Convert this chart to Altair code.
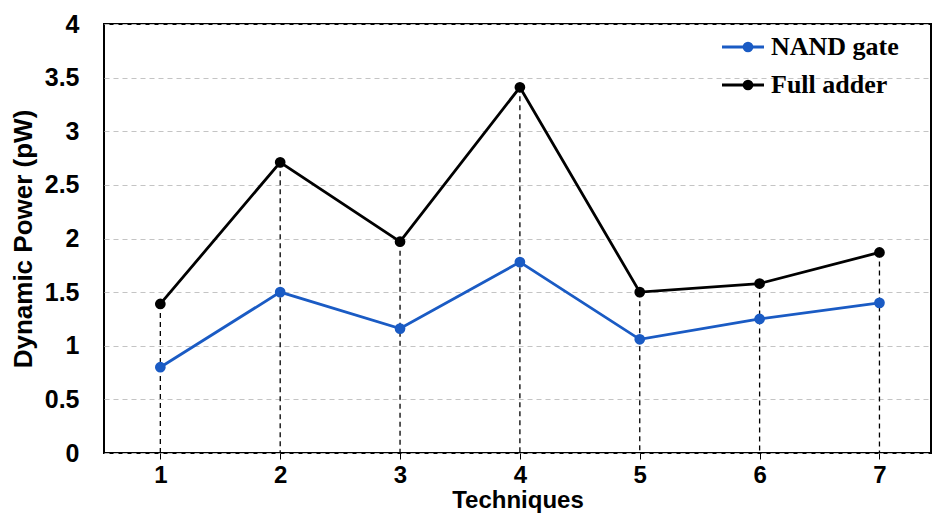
import altair as alt
import pandas as pd

techniques = [1, 2, 3, 4, 5, 6, 7]
nand_gate = [0.80, 1.50, 1.16, 1.78, 1.06, 1.25, 1.40]
full_adder = [1.39, 2.71, 1.97, 3.41, 1.50, 1.58, 1.87]
series_names = ["NAND gate", "Full adder"]
series_colors = ["#1a5bc4", "#000000"]
y_ticks = [0, 0.5, 1, 1.5, 2, 2.5, 3, 3.5, 4]

rows = []
for t, v in zip(techniques, nand_gate):
    rows.append({"Techniques": t, "value": v, "series": "NAND gate"})
for t, v in zip(techniques, full_adder):
    rows.append({"Techniques": t, "value": v, "series": "Full adder"})
df = pd.DataFrame(rows)
df_fa = pd.DataFrame({"Techniques": techniques, "value": full_adder})

x_enc = alt.X("Techniques:Q",
              scale=alt.Scale(domain=[0.53, 7.43], nice=False, zero=False),
              axis=alt.Axis(values=techniques, format="d", grid=False, domain=False,
                            ticks=True, tickSize=6, tickColor="black", tickWidth=1,
                            labelFont="Liberation Sans", labelFontWeight="bold",
                            labelFontSize=24, labelColor="black", labelPadding=4,
                            title="Techniques", titleFont="Liberation Sans",
                            titleFontWeight="bold", titleFontSize=24, titleColor="black",
                            titlePadding=1))
y_enc = alt.Y("value:Q",
              scale=alt.Scale(domain=[0, 4], nice=False),
              axis=alt.Axis(values=y_ticks, format="~g", grid=True, gridColor="#c4c4c4",
                            gridDash=[5, 4], gridWidth=1.2, domain=False, ticks=False,
                            labelFont="Liberation Sans", labelFontWeight="bold",
                            labelFontSize=25, labelColor="black", labelPadding=25,
                            title="Dynamic Power (pW)", titleFont="Liberation Sans",
                            titleFontWeight="bold", titleFontSize=26, titleColor="black",
                            titlePadding=8))

drops = alt.Chart(df_fa).mark_rule(color="black", strokeDash=[5, 4], strokeWidth=1.3).encode(
    x=x_enc, y=y_enc, y2=alt.datum(0))

lines = alt.Chart(df).mark_line(strokeWidth=2.8).encode(
    x=x_enc, y=y_enc,
    color=alt.Color("series:N", scale=alt.Scale(domain=series_names, range=series_colors),
                    sort=series_names,
                    legend=alt.Legend(
                        title=None, orient="none", legendX=626, legendY=10,
                        symbolType="M-2,0L2,0", symbolSize=441, symbolStrokeWidth=2.8,
                        labelFont="Liberation Serif", labelFontWeight="bold",
                        labelFontSize=26, labelColor="black", labelOffset=15,
                        rowPadding=12, padding=0)),
    detail="series:N")

points = alt.Chart(df).mark_point(filled=True, size=115, opacity=1).encode(
    x=x_enc, y=y_enc,
    fill=alt.Fill("series:N", scale=alt.Scale(domain=series_names, range=series_colors),
                  sort=series_names,
                  legend=alt.Legend(
                      title=None, orient="none", legendX=631, legendY=10,
                      symbolType="circle", symbolSize=115, symbolOpacity=1,
                      symbolStrokeWidth=0, labelExpr="''",
                      labelFont="Liberation Serif", labelFontWeight="bold",
                      labelFontSize=26, labelColor="black",
                      labelOffset=15, rowPadding=12, padding=0)))

chart = alt.layer(drops, lines, points).resolve_scale(fill="independent", color="independent").properties(
    width=827, height=429,
    padding={"left": 2, "top": 4, "right": 5, "bottom": 5},
    background="white"
).configure_view(stroke="black", strokeWidth=2)

chart.save("out.html", embed_options={"renderer": "svg", "actions": False})
